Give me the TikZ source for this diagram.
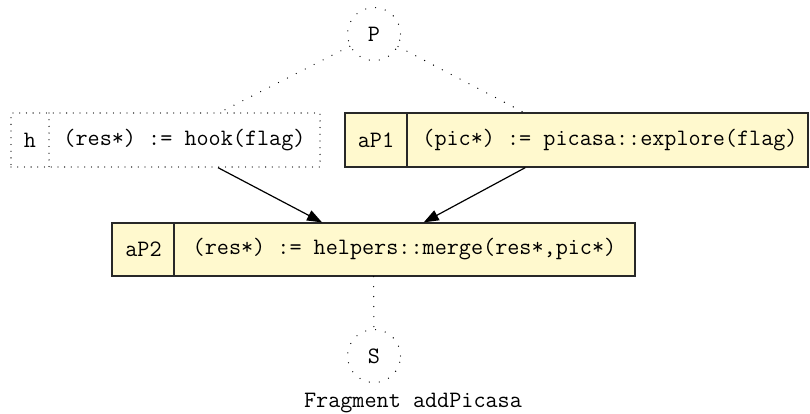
\documentclass[tikz,border=0pt]{standalone}
\usepackage{fontspec}
\usetikzlibrary{arrows.meta}
\definecolor{recfill}{RGB}{255,249,206}
\definecolor{recline}{RGB}{40,40,40}
\tikzset{
  every node/.style={font=\ttfamily\fontsize{23.5}{26}\selectfont},
  dotline/.style={line width=1.3pt, line cap=round, dash pattern=on 0pt off 10pt, draw=black},
  dotbox/.style={line width=1.3pt, line cap=round, dash pattern=on 0pt off 6.7pt, draw=black},
  recbox/.style={draw=recline, fill=recfill, line width=1.2pt, inner sep=0pt},
  hookbox/.style={dotbox, inner sep=0pt},
  statecirc/.style={circle, line width=1.3pt, line cap=round, dash pattern=on 0pt off 10pt, draw=black, minimum size=53pt, inner sep=0pt},
  lbl/.style={inner sep=0pt},
  flow/.style={line width=1.2pt, draw=black, -{Triangle[length=15pt,width=11pt]}}
}
\begin{document}
\begin{tikzpicture}[x=1pt,y=-1pt]
\useasboundingbox (0,0) rectangle (810,414);
% nodes
\node[statecirc] (P) at (374,34) {P};
\node[hookbox, minimum width=309pt, minimum height=54pt] (h) at (165.5,140) {};
\node[recbox, minimum width=463pt, minimum height=54pt] (aP1) at (576.5,140) {};
\node[recbox, minimum width=523pt, minimum height=53pt] (aP2) at (373.5,249.5) {};
\node[statecirc] (S) at (374,356) {S};
% record dividers
\coordinate (hdt) at (49,113);
\coordinate (hdb) at (49,167);
\draw[dotbox] (hdt) -- (hdb);
\coordinate (adt) at (407,113);
\coordinate (adb) at (407,167);
\draw[draw=recline, line width=1.2pt] (adt) -- (adb);
\coordinate (bdt) at (174,223);
\coordinate (bdb) at (174,276);
\draw[draw=recline, line width=1.2pt] (bdt) -- (bdb);
% field texts
\node[lbl] (ht) at (30,140) {h};
\node[lbl] (hr) at (184.5,140) {(res*) := hook(flag)};
\node[lbl] (at1) at (376,140) {aP1};
\node[lbl] (ar1) at (610,140) {(pic*) := picasa::explore(flag)};
\node[lbl] (at2) at (143.5,249.5) {aP2};
\node[lbl] (ar2) at (404.5,249.5) {(res*) := helpers::merge(res*,pic*)};
% connectors
\draw[dotline] (P) -- (h);
\draw[dotline] (P) -- (aP1);
\draw[flow] (h) -- (aP2);
\draw[flow] (aP1) -- (aP2);
\draw[dotline] (aP2) -- (S);
% caption
\node[lbl, anchor=base] (cap) at (413,407) {Fragment addPicasa};
\end{tikzpicture}
\end{document}
